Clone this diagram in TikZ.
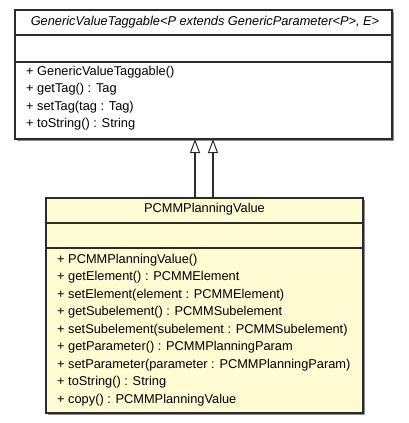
\documentclass[tikz,border=0pt]{standalone}
\usepackage{fontspec}
\setmainfont{Liberation Sans}
\usetikzlibrary{positioning}
\usetikzlibrary{arrows.meta}
\usetikzlibrary{shadows}

\definecolor{classfill}{HTML}{FFFBD2}
\definecolor{umlline}{HTML}{2B2B2B}

\tikzset{
  classbox/.style={draw=umlline, line width=1.2pt, inner sep=0pt, outer sep=0pt,
    drop shadow={shadow xshift=1.5pt, shadow yshift=-1.5pt, fill=black!45, opacity=1}},
  member/.style={anchor=west, inner sep=0pt, text height=9pt, text depth=2.5pt,
    font=\fontsize{12.8}{14}\selectfont},
  sep/.style={draw=umlline, line width=1.2pt},
  extends/.style={draw=umlline, line width=1.2pt, -{Triangle[open, length=14pt, width=10pt, line width=1pt]}},
}

\begin{document}
\begin{tikzpicture}[x=1pt, y=-1pt]
  \useasboundingbox (0,0) rectangle (408,423);

  % superclass
  \node[classbox, fill=white, minimum width=377pt, minimum height=129pt] (gvt) at (203.5,74.5) {};
  \node[member, anchor=center, font=\fontsize{12.8}{14}\selectfont\itshape] (gvttitle) at (205,22.5)
    {GenericValueTaggable<P extends GenericParameter<P>, E>};
  \draw[sep] ([yshift=-25pt]gvt.north west) -- ([yshift=-25pt]gvt.north east);
  \draw[sep] ([yshift=-52pt]gvt.north west) -- ([yshift=-52pt]gvt.north east);
  \node[member] (gvt1) at (26,72) {+ GenericValueTaggable()};
  \node[member] (gvt2) at (26,89.5) {+ getTag() : Tag};
  \node[member] (gvt3) at (26,107) {+ setTag(tag : Tag)};
  \node[member] (gvt4) at (26,124.5) {+ toString() : String};

  % subclass
  \node[classbox, fill=classfill, minimum width=317pt, minimum height=215pt] (pv) at (204.5,305.5) {};
  \node[member, anchor=center] (pvtitle) at (204.5,209.5) {PCMMPlanningValue};
  \draw[sep] ([yshift=-25pt]pv.north west) -- ([yshift=-25pt]pv.north east);
  \draw[sep] ([yshift=-50pt]pv.north west) -- ([yshift=-50pt]pv.north east);
  \node[member] (pv1) at (57,260) {+ PCMMPlanningValue()};
  \node[member] (pv2) at (57,277.5) {+ getElement() : PCMMElement};
  \node[member] (pv3) at (57,295) {+ setElement(element : PCMMElement)};
  \node[member] (pv4) at (57,312.5) {+ getSubelement() : PCMMSubelement};
  \node[member] (pv5) at (57,330) {+ setSubelement(subelement : PCMMSubelement)};
  \node[member] (pv6) at (57,347.5) {+ getParameter() : PCMMPlanningParam};
  \node[member] (pv7) at (57,365) {+ setParameter(parameter : PCMMPlanningParam)};
  \node[member] (pv8) at (57,382.5) {+ toString() : String};
  \node[member] (pv9) at (57,400) {+ copy() : PCMMPlanningValue};

  % generalisation
  \draw[extends] ([xshift=-9.5pt]pv.north) -- ([xshift=-9.5pt]pv.north |- gvt.south);
  \draw[extends] ([xshift=8.5pt]pv.north) -- ([xshift=8.5pt]pv.north |- gvt.south);
\end{tikzpicture}
\end{document}
